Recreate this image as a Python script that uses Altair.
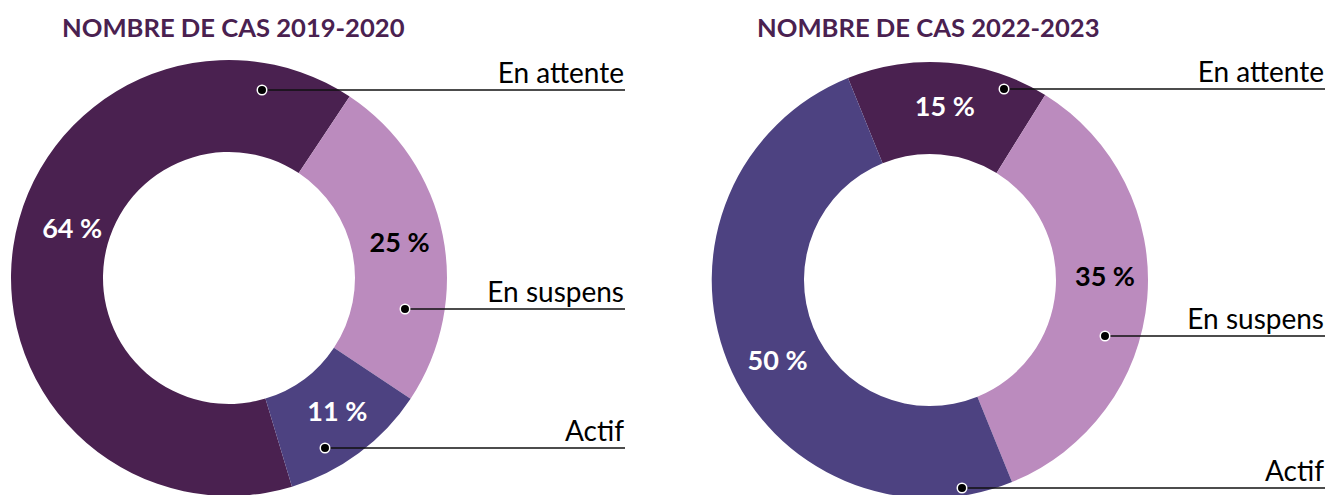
import math
import altair as alt
import pandas as pd

# ---- data ----
statuts = ["En attente", "En suspens", "Actif"]
rang = [1, 2, 3]
pct_2019 = [64, 25, 11]
pct_2022 = [15, 35, 50]
titres = ["NOMBRE DE CAS 2019-2020", "NOMBRE DE CAS 2022-2023"]

# ---- styles / layout ----
couleurs = ["#4A2150", "#BB8BBE", "#4D4281"]
TITLE_COLOR = "#4A2150"
FONT = "Lato"
W, H = 1338, 495
OUTER, INNER = 218, 126
centres = [(229, 278), (930, 280)]
starts_deg = [163.2, -22.1]
# label placement tweaks (angle shift in % of the turn, radius in px)
label_shift = [[2.4, 0.0, -0.6], [0.0, -1.5, -1.7]]
label_radius = [[164, 174, 173], [173, 175, 173]]
title_pos = [(62, 37), (757, 37)]
callout_dots = [[(262, 90), (405, 309), (325, 448)],
                [(1004, 89), (1105, 336), (962, 488)]]
callout_end = [625, 1325]

color_scale = alt.Scale(domain=statuts, range=couleurs)
xs = alt.Scale(domain=[0, W], range=[0, W])
ys = alt.Scale(domain=[0, H], range=[0, H])


def donut(values, centre, start_deg, shift, radii):
    df = pd.DataFrame({"statut": statuts, "pct": values, "rang": rang,
                       "shift": shift, "r": radii})
    df["label"] = [f"{v} %" for v in values]
    start = math.radians(start_deg)
    tscale = alt.Scale(domain=[0, 100], range=[start, start + 2 * math.pi])
    arc = alt.Chart(df).mark_arc(outerRadius=OUTER, innerRadius=INNER, stroke=None).encode(
        theta=alt.Theta("pct:Q", stack=True, scale=tscale),
        order=alt.Order("rang:Q"),
        x=alt.value(centre[0]),
        y=alt.value(centre[1]),
        color=alt.Color("statut:N", scale=color_scale, legend=None),
    )
    txt = alt.Chart(df).transform_window(
        cum="sum(pct)", sort=[alt.SortField("rang")], frame=[None, 0]
    ).transform_calculate(
        mid="datum.cum - datum.pct / 2 + datum.shift"
    ).mark_text(font=FONT, fontSize=27, fontWeight="bold",
                align="center", baseline="middle").encode(
        theta=alt.Theta("mid:Q", stack=None, scale=tscale),
        radius=alt.Radius("r:Q", scale=None),
        x=alt.value(centre[0]),
        y=alt.value(centre[1]),
        text="label:N",
        color=alt.condition(alt.datum.statut == "En suspens",
                            alt.value("#000000"), alt.value("#FFFFFF")),
    )
    return alt.layer(arc, txt)


rows = []
for i in range(2):
    for s, (dx, dy) in zip(statuts, callout_dots[i]):
        rows.append({"statut": s, "x": dx, "y": dy, "xe": callout_end[i]})
calls = pd.DataFrame(rows)

rules = alt.Chart(calls).mark_rule(color="#111111", strokeWidth=1.5).encode(
    x=alt.X("x:Q", scale=xs, axis=None),
    x2="xe:Q",
    y=alt.Y("y:Q", scale=ys, axis=None),
)
dots = alt.Chart(calls).mark_circle(size=90, color="#000000", opacity=1,
                                    stroke="#FFFFFF", strokeWidth=1.5).encode(
    x=alt.X("x:Q", scale=xs, axis=None),
    y=alt.Y("y:Q", scale=ys, axis=None),
)
labels = alt.Chart(calls).transform_calculate(
    xt="datum.xe - 1", yt="datum.y - 7"
).mark_text(align="right", baseline="alphabetic", font=FONT, fontSize=28,
            color="#000000").encode(
    x=alt.X("xt:Q", scale=xs, axis=None),
    y=alt.Y("yt:Q", scale=ys, axis=None),
    text="statut:N",
)

tdf = pd.DataFrame({"titre": titres,
                    "x": [p[0] for p in title_pos],
                    "y": [p[1] for p in title_pos]})
titles = alt.Chart(tdf).mark_text(align="left", baseline="alphabetic", font=FONT,
                                  fontSize=25.6, fontWeight="bold",
                                  color=TITLE_COLOR).encode(
    x=alt.X("x:Q", scale=xs, axis=None),
    y=alt.Y("y:Q", scale=ys, axis=None),
    text="titre:N",
)

d1 = donut(pct_2019, centres[0], starts_deg[0], label_shift[0], label_radius[0])
d2 = donut(pct_2022, centres[1], starts_deg[1], label_shift[1], label_radius[1])

chart = alt.layer(d1, d2, rules, dots, labels, titles).resolve_scale(
    theta="independent"
).properties(
    width=W, height=H, padding=0, autosize=alt.AutoSizeParams(type="none"),
    background="#FFFFFF",
).configure_view(stroke=None)

chart.save("out.html", embed_options={"renderer": "svg", "actions": False})
